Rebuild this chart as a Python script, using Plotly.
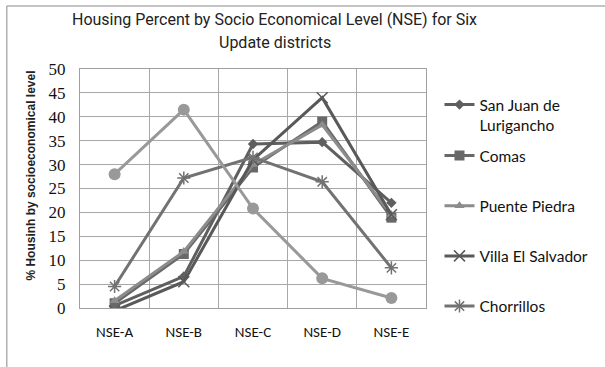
import plotly.graph_objects as go

categories = ["NSE-A", "NSE-B", "NSE-C", "NSE-D", "NSE-E"]
san_juan = [0.5, 6.6, 34.3, 34.7, 22.0]
comas = [1.0, 11.3, 29.4, 39.0, 18.9]
puente_piedra = [1.5, 11.8, 30.0, 38.3, 19.5]
villa_el_salvador = [-0.6, 5.5, 31.0, 44.0, 19.5]
chorrillos = [4.5, 27.2, 31.5, 26.4, 8.4]
sixth_district = [28.0, 41.5, 20.8, 6.2, 2.1]
y_ticks = [0, 5, 10, 15, 20, 25, 30, 35, 40, 45, 50]

series = [
    ("San Juan de<br>Lurigancho", san_juan, "#5f5f5f", "diamond", 8, True, "legend"),
    ("Comas", comas, "#686868", "square", 10, True, "legend2"),
    ("Puente Piedra", puente_piedra, "#8c8c8c", "triangle-up", 9, True, "legend2"),
    ("Villa El Salvador", villa_el_salvador, "#595959", "x-thin-open", 11, True, "legend2"),
    ("Chorrillos", chorrillos, "#727272", "asterisk-open", 11, True, "legend2"),
    ("", sixth_district, "#999999", "circle", 12, False, "legend2"),
]

fig = go.Figure()
for i, (name, vals, col, sym, sz, show, lg) in enumerate(series):
    marker = dict(symbol=sym, size=sz, color=col)
    if sym.endswith("open"):
        marker["line"] = dict(color=col, width=1.5)
    fig.add_trace(go.Scatter(
        x=categories, y=vals, name=name, mode="lines+markers",
        line=dict(color=col, width=3), marker=marker,
        showlegend=show, legendgroup=str(i), legend=lg,
    ))

title_font = dict(family="Roboto, Liberation Sans", size=16, color="#222")
legend_font = dict(family="Lato, Carlito, Liberation Sans", size=15.5, color="#111")

fig.update_layout(
    width=605, height=367,
    margin=dict(l=80, r=175, t=69, b=59),
    paper_bgcolor="white", plot_bgcolor="white",
    legend=dict(
        x=1.039, xanchor="left", y=(308 - 88) / 239, yanchor="top", valign="top",
        font=legend_font, bgcolor="rgba(0,0,0,0)", maxheight=320,
    ),
    legend2=dict(
        x=1.039, xanchor="left", y=(308 - 139) / 239, yanchor="top",
        font=legend_font, tracegroupgap=27, bgcolor="rgba(0,0,0,0)", maxheight=320,
    ),
    xaxis=dict(
        type="category", tickson="boundaries", showgrid=True, gridcolor="#a8a8a8", gridwidth=1,
        showline=True, linecolor="#a0a0a0", mirror=True, ticks="",
        tickfont=dict(family="Carlito, Lato, Liberation Sans", size=15, color="#111"),
        ticklabelstandoff=10, range=[-0.5, 4.5],
    ),
    yaxis=dict(
        range=[0, 50], tickvals=y_ticks, showgrid=True, gridcolor="#a8a8a8", gridwidth=1,
        showline=True, linecolor="#a0a0a0", mirror=True, ticks="", zeroline=False,
        tickfont=dict(family="Liberation Serif, DejaVu Serif", size=17, color="#111"),
        ticklabelstandoff=10,
    ),
    annotations=[
        dict(text="Housing Percent by Socio Economical Level (NSE) for Six", xref="paper", yref="paper",
             x=(277 - 80) / 350, y=(308 - 20) / 239, xanchor="center", yanchor="middle",
             showarrow=False, font=title_font),
        dict(text="Update districts", xref="paper", yref="paper",
             x=(277 - 80) / 350, y=(308 - 42) / 239, xanchor="center", yanchor="middle",
             showarrow=False, font=title_font),
        dict(text="<b>% Housinh by socioeconomical level</b>", xref="paper", yref="paper",
             x=(30 - 80) / 350, y=(308 - 176) / 239, xanchor="center", yanchor="middle",
             textangle=-90, showarrow=False,
             font=dict(family="Liberation Sans", size=12, color="#222")),
    ],
    shapes=[dict(type="rect", xref="paper", yref="paper",
                 x0=(6 - 80) / 350, x1=(620 - 80) / 350,
                 y0=(308 - 380) / 239, y1=(308 - 6) / 239,
                 line=dict(color="#888", width=1), layer="below")],
)

fig.write_html("out.html")
